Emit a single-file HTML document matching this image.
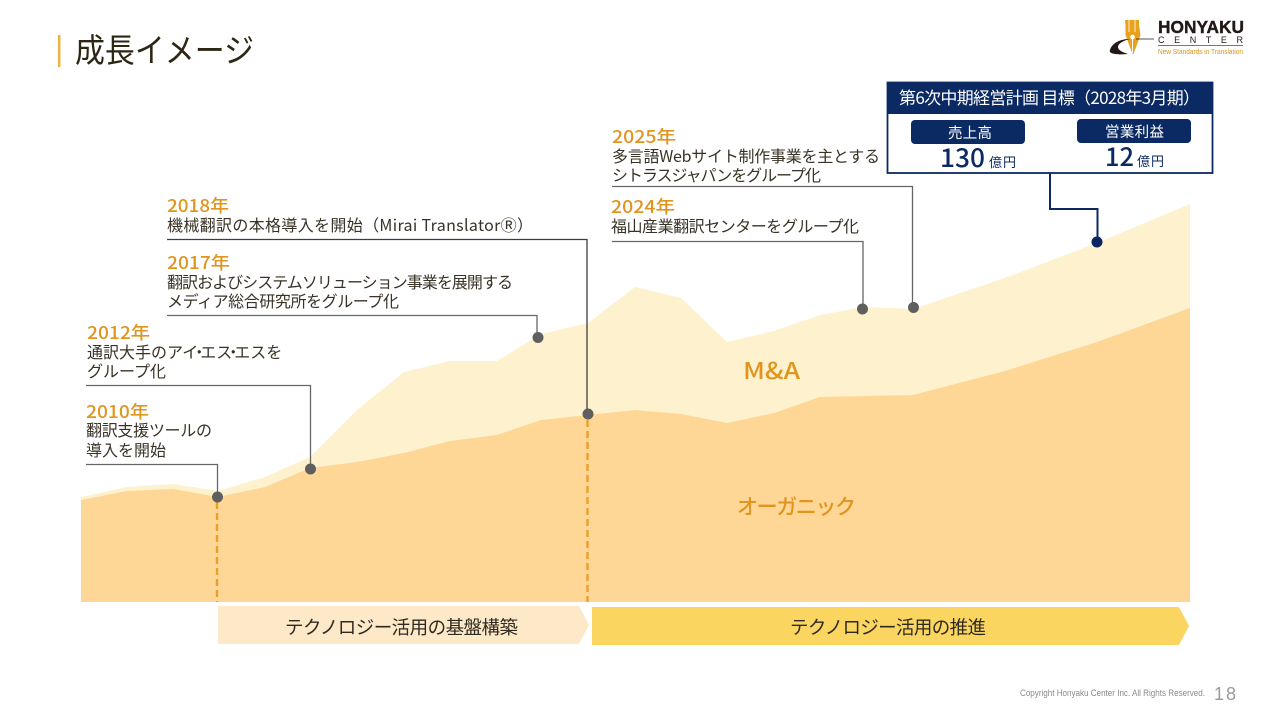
<!DOCTYPE html>
<html lang="ja"><head><meta charset="utf-8"><title>成長イメージ</title>
<style>
html,body{margin:0;padding:0;background:#fff;width:1280px;height:720px;overflow:hidden}
svg{display:block;position:absolute;left:0;top:0}
text{font-family:"Liberation Sans","Noto Sans CJK JP",sans-serif}
.j{font-family:"Noto Sans CJK JP",sans-serif;font-weight:400}
.t{fill:#3a3226;font-size:16px}
.y{font-family:"Noto Sans CJK JP",sans-serif;fill:#e0951e;font-size:17.500px;font-weight:500}
.w{fill:#fff}
.n{fill:#0b2a63}
</style></head><body>
<svg width="1280" height="720" viewBox="0 0 1280 720" xmlns="http://www.w3.org/2000/svg">
<rect x="58" y="35" width="2.500" height="32" fill="#f0b04a"/>
<text class="j" x="75" y="62" font-size="33" fill="#2e2615" textLength="179" lengthAdjust="spacingAndGlyphs">成長イメージ</text>

<!-- logo -->
<path d="M1125 20h14v5l1.500 10-7 19h-1l-7-19 0-10z" fill="#e8a21e"/>
<path d="M1129 20v12M1135 20v12" stroke="#fff" stroke-width=".8"/>
<circle cx="1132.500" cy="37" r="2.300" fill="#fff"/>
<path d="M1132.500 39v14" stroke="#fff" stroke-width="1"/>
<path d="M1110 50c2-7 10-11 20-11-8 2-12 5-12 8 0 3 4 5 10 7-10 1-20 0-18-4z" fill="#231815"/>
<path d="M1136 39h18" stroke="#231815" stroke-width=".8"/>
<text x="1158" y="33" font-size="17.500" font-weight="700" fill="#231815" textLength="86" lengthAdjust="spacingAndGlyphs" stroke="#231815" stroke-width=".4">HONYAKU</text>
<text x="1158" y="43" font-size="9" fill="#231815" textLength="85" lengthAdjust="spacing">CENTER</text>
<rect x="1158" y="45" width="85" height="1" fill="#777"/>
<text x="1158" y="54" font-size="7.500" fill="#d8941c" textLength="85" lengthAdjust="spacingAndGlyphs">New Standards in Translation</text>

<!-- chart -->
<polygon fill="#fdf2cd" points="81,497 127,487 173,484 218,491 265,477 310,457 357,410 404,372 450,361 497,361 541,334 588,323 635,287 681,298 727,342 774,331 820,315 863,307 913,309 1005,278 1097,243 1190,204 1190,602 81,602"/>
<polygon fill="#fed796" points="81,500 127,491 173,489 218,497 265,487 310,468 357,462 404,453 450,441 497,435 541,420 588,415 635,410 681,414 727,423 774,413 820,397 913,395 1005,371 1097,342 1190,308 1190,602 81,602"/>
<path d="M217 502V602M587.500 420V602" stroke="#e8a02a" stroke-width="2.400" stroke-dasharray="7 4" fill="none"/>

<!-- connectors -->
<g fill="none" stroke="#666" stroke-width="1.300">
<path d="M86 464.500H217.500V497"/>
<path d="M86 385.500H310.500V469"/>
<path d="M167 315.500H537V337"/>
<path d="M612 241.500H863V309"/>
<path d="M612 186.500H912.500V307"/>
</g>
<path d="M167 239.500H587V414" fill="none" stroke="#3d3d3d" stroke-width="1.300"/>
<path d="M1050 173V209H1097.500V242" fill="none" stroke="#0b2a63" stroke-width="2"/>
<g fill="#5f5f5f">
<circle cx="217.500" cy="497" r="5.500"/><circle cx="310.500" cy="469" r="5.500"/>
<circle cx="538" cy="337.500" r="5.500"/><circle cx="588" cy="414" r="5.500"/>
<circle cx="862.500" cy="309" r="5.500"/><circle cx="913.500" cy="307.500" r="5.500"/>
</g>
<circle cx="1097" cy="242" r="5.500" fill="#0a2560"/>

<!-- labels -->
<text class="y" x="86" y="418" textLength="63" lengthAdjust="spacingAndGlyphs">2010年</text>
<text class="j t" x="86" y="436" textLength="126">翻訳支援ツールの</text>
<text class="j t" x="86" y="456" textLength="80">導入を開始</text>
<text class="y" x="87" y="339" textLength="63" lengthAdjust="spacingAndGlyphs">2012年</text>
<text class="j t" x="87" y="358">通訳大手のアイ<tspan dx="-7">・</tspan><tspan dx="-7">エス</tspan><tspan dx="-7">・</tspan><tspan dx="-7">エスを</tspan></text>
<text class="j t" x="87" y="377" textLength="79">グループ化</text>
<text class="y" x="167" y="269" textLength="63" lengthAdjust="spacingAndGlyphs">2017年</text>
<text class="j t" x="167" y="288" textLength="346">翻訳およびシステムソリューション事業を展開する</text>
<text class="j t" x="167" y="307" textLength="232">メディア総合研究所をグループ化</text>
<text class="y" x="167" y="212" textLength="62" lengthAdjust="spacingAndGlyphs">2018年</text>
<text class="j t" x="167" y="231" textLength="366">機械翻訳の本格導入を開始（Mirai TranslatorⓇ）</text>
<text class="y" x="611" y="213" textLength="64" lengthAdjust="spacingAndGlyphs">2024年</text>
<text class="j t" x="611" y="232" textLength="248">福山産業翻訳センターをグループ化</text>
<text class="y" x="612" y="143" textLength="64" lengthAdjust="spacingAndGlyphs">2025年</text>
<text class="j t" x="612" y="162" textLength="268">多言語Webサイト制作事業を主とする</text>
<text class="j t" x="612" y="181" textLength="209">シトラスジャパンをグループ化</text>

<text class="j" x="743" y="379" font-size="23" fill="#e0951e" style="font-weight:500" textLength="57" lengthAdjust="spacingAndGlyphs">M&amp;A</text>
<text class="j" x="737" y="514" font-size="21" fill="#e0951e" style="font-weight:500" textLength="119">オーガニック</text>

<!-- target box -->
<rect x="887.500" y="82.500" width="325" height="90.500" fill="#fff" stroke="#0b2a63" stroke-width="1.800"/>
<rect x="887" y="82" width="326" height="32" fill="#0b2a63"/>
<text class="j w" x="899" y="104" font-size="17" textLength="301">第6次中期経営計画 目標（2028年3月期）</text>
<rect x="911" y="120" width="114" height="24" rx="4" fill="#0b2a63"/>
<rect x="1077" y="119" width="114" height="24" rx="4" fill="#0b2a63"/>
<text class="j w" x="948" y="138" font-size="14.500" textLength="44">売上高</text>
<text class="j w" x="1105" y="137" font-size="14.500" textLength="59">営業利益</text>
<text class="j n" x="940" y="167" font-size="25" textLength="45" lengthAdjust="spacingAndGlyphs" style="font-weight:500">130</text>
<text class="j n" x="989" y="167" font-size="13" textLength="27">億円</text>
<text class="j n" x="1105" y="166" font-size="25" textLength="29" lengthAdjust="spacingAndGlyphs" style="font-weight:500">12</text>
<text class="j n" x="1137" y="166" font-size="13" textLength="27">億円</text>

<!-- phase arrows -->
<polygon points="218,606 579,606 589,625 579,644 218,644" fill="#fde8c8"/>
<polygon points="592,607 1179,607 1189,626 1179,645 592,645" fill="#fad55f"/>
<text class="j" x="285" y="634" font-size="18.500" fill="#2f2a20" textLength="233">テクノロジー活用の基盤構築</text>
<text class="j" x="790" y="634" font-size="18.500" fill="#2f2a20" textLength="196">テクノロジー活用の推進</text>

<text x="1020" y="696" font-size="8.800" fill="#8a8a8a" textLength="185" lengthAdjust="spacingAndGlyphs">Copyright Honyaku Center Inc. All Rights Reserved.</text>
<text x="1214" y="700" font-size="18" fill="#9a9a9a" textLength="22">18</text>
</svg>
</body></html>
